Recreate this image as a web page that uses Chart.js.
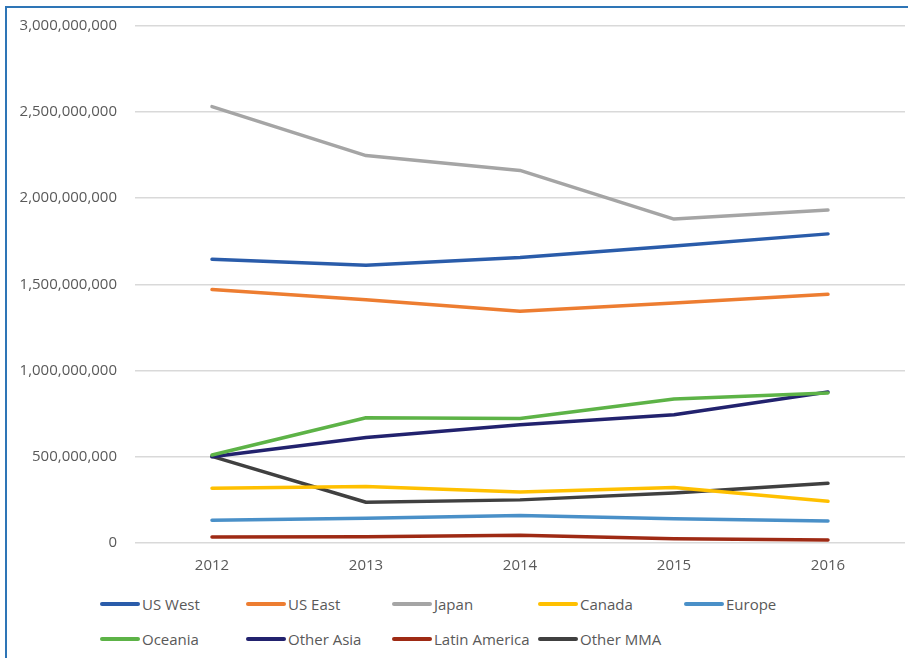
<!DOCTYPE html>
<html>
<head>
<meta charset="utf-8">
<script src="https://cdn.jsdelivr.net/npm/chart.js@4"></script>
<style>
  html, body { margin: 0; padding: 0; background: #fff; overflow: hidden; }
  #wrap { position: relative; width: 908px; height: 658px; overflow: hidden; background: #fff; }
  #edgeL { position: absolute; left: 5px; top: 6px; width: 2px; height: 652px; background: #2E75B6; }
  #edgeT { position: absolute; left: 5px; top: 6px; width: 903px; height: 2px; background: #2E75B6; }
  #box { position: absolute; left: 0; top: 0; width: 908px; height: 580px; }
  .legend { position: absolute; left: 100px; display: flex; font-family: "Open Sans", sans-serif;
            font-size: 15px; color: #595959; }
  .item { display: flex; align-items: center; min-width: 146px; white-space: nowrap; }
  .swatch { width: 40px; height: 4px; border-radius: 2px; margin-right: 2px; }
</style>
</head>
<body>
<div id="wrap">
  <div id="edgeL"></div>
  <div id="edgeT"></div>
  <div id="box"><canvas id="myChart"></canvas></div>
  <div class="legend" id="leg1" style="top:594px"></div>
  <div class="legend" id="leg2" style="top:629px"></div>
</div>
<script>
const years = ['2012', '2013', '2014', '2015', '2016'];
const usWest = [1645000000, 1610000000, 1655000000, 1722000000, 1792000000];
const usEast = [1469000000, 1410000000, 1344000000, 1392000000, 1442000000];
const japan = [2530000000, 2246000000, 2160000000, 1878000000, 1930000000];
const canada = [318000000, 328000000, 296000000, 322000000, 242000000];
const europe = [132000000, 144000000, 160000000, 140000000, 128000000];
const oceania = [510000000, 726000000, 722000000, 835000000, 870000000];
const otherAsia = [500000000, 611000000, 686000000, 743000000, 875000000];
const latinAmerica = [35000000, 36000000, 45000000, 24000000, 17000000];
const otherMMA = [502000000, 236000000, 250000000, 290000000, 346000000];
const yTicks = [0, 500000000, 1000000000, 1500000000, 2000000000, 2500000000, 3000000000];

const names = ['US West', 'US East', 'Japan', 'Canada', 'Europe', 'Oceania', 'Other Asia', 'Latin America', 'Other MMA'];
const series = [usWest, usEast, japan, canada, europe, oceania, otherAsia, latinAmerica, otherMMA];
const colors = ['#2A5CAA', '#ED7D31', '#A5A5A5', '#FFC000', '#4A90C8', '#5DB347', '#22226E', '#9E2A14', '#404040'];

const datasets = names.map((n, i) => ({
  label: n,
  data: series[i],
  borderColor: colors[i],
  backgroundColor: colors[i],
  borderWidth: 3.5,
  pointRadius: 0,
  fill: false,
  tension: 0,
  borderCapStyle: 'round',
  borderJoinStyle: 'round'
}));

const ctx = document.getElementById('myChart');
new Chart(ctx, {
  type: 'line',
  data: { labels: years, datasets: datasets },
  options: {
    responsive: true,
    maintainAspectRatio: false,
    animation: false,
    layout: { padding: { left: 10, right: 3, top: 4, bottom: 0 } },
    plugins: {
      legend: { display: false },
      tooltip: { enabled: false }
    },
    scales: {
      x: {
        offset: true,
        grid: { display: false, drawTicks: false },
        border: { display: false },
        ticks: { color: '#595959', padding: 14, font: { family: 'Open Sans', size: 15 } },
        afterFit: (s) => { s.height = 37; }
      },
      y: {
        min: 0,
        max: 3000000000,
        afterBuildTicks: (s) => { s.ticks = yTicks.map(v => ({ value: v })); },
        afterFit: (s) => { s.width = 125; },
        grid: { color: '#D9D9D9', lineWidth: 1.5, drawTicks: false },
        border: { display: false },
        ticks: {
          color: '#595959',
          padding: 18,
          font: { family: 'Open Sans', size: 15, lineHeight: 1 },
          callback: (v) => v.toLocaleString('en-US')
        }
      }
    }
  }
});

// legend laid out in fixed columns like the original
function addLegend(el, idx) {
  idx.forEach(i => {
    const it = document.createElement('div');
    it.className = 'item';
    const sw = document.createElement('div');
    sw.className = 'swatch';
    sw.style.background = colors[i];
    const tx = document.createElement('span');
    tx.textContent = names[i];
    it.appendChild(sw);
    it.appendChild(tx);
    el.appendChild(it);
  });
}
addLegend(document.getElementById('leg1'), [0, 1, 2, 3, 4]);
addLegend(document.getElementById('leg2'), [5, 6, 7, 8]);
</script>
</body>
</html>
